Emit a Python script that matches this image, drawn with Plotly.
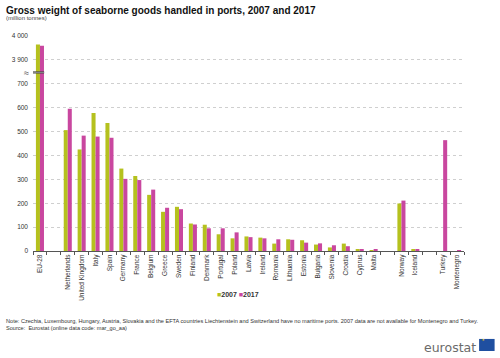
import plotly.graph_objects as go

categories = ["EU-28", " ", "Netherlands", "United Kingdom", "Italy", "Spain", "Germany", "France",
              "Belgium", "Greece", "Sweden", "Finland", "Denmark", "Portugal", "Poland", "Latvia",
              "Ireland", "Romania", "Lithuania", "Estonia", "Bulgaria", "Slovenia", "Croatia",
              "Cyprus", "Malta", "  ", "Norway", "Iceland", "   ", "Turkey", "Montenegro"]

values_2007 = [3964, None, 506, 425, 578, 536, 345, 314, 235, 164, 185, 115, 110, 70, 53, 61,
               56, 31, 49, 45, 27, 15, 31, 8, 2, None, 199, 7, None, None, None]
values_2017 = [3959, None, 595, 483, 479, 474, 302, 297, 257, 181, 175, 111, 95, 95, 78, 58,
               53, 49, 47, 35, 32, 24, 20, 8, 6, None, 211, 8, None, 464, 2]

ytick_vals = [0, 100, 200, 300, 400, 500, 600, 700, 800, 900]
ytick_text = ["0", "100", "200", "300", "400", "500", "600", "700", "3 900", "4 000"]

BREAK_OFFSET = 3100  # broken axis: values above the break are shifted down


def to_axis(v):
    if v is None:
        return None
    return v - BREAK_OFFSET if v > 750 else v


c2007 = "#B5C11E"
c2017 = "#C9479F"
font_family = "Liberation Sans, Arial, sans-serif"

fig = go.Figure()
fig.add_trace(go.Bar(x=categories, y=[to_axis(v) for v in values_2007], name="2007",
                     marker=dict(color=c2007, line=dict(width=0)),
                     customdata=values_2007, hovertemplate="%{x}: %{customdata}<extra>2007</extra>"))
fig.add_trace(go.Bar(x=categories, y=[to_axis(v) for v in values_2017], name="2017",
                     marker=dict(color=c2017, line=dict(width=0)),
                     customdata=values_2017, hovertemplate="%{x}: %{customdata}<extra>2017</extra>"))

fig.update_layout(
    width=500, height=358,
    margin=dict(l=30, r=36, t=36, b=107),
    paper_bgcolor="white", plot_bgcolor="white",
    barmode="group", bargap=0.42, bargroupgap=0,
    font=dict(family=font_family, size=7, color="#333333"),
    showlegend=False,
    xaxis=dict(type="category", categoryorder="array", categoryarray=categories,
               range=[-0.5, 30.5], tickangle=-90, tickfont=dict(size=6.5, color="#333333"),
               showline=True, linecolor="#555555", linewidth=1,
               ticks="outside", ticklen=3, tickcolor="#555555", tickson="boundaries",
               showgrid=False, fixedrange=True),
    yaxis=dict(range=[0, 900], tickvals=ytick_vals, ticktext=ytick_text,
               tickfont=dict(size=6.5, color="#333333"),
               showgrid=True, gridcolor="#cfcfcf", griddash="dot", gridwidth=1,
               zeroline=False, showline=False, ticks="", ticklabelstandoff=4, fixedrange=True),
)

# axis break marker
fig.add_shape(type="rect", xref="x", yref="y", x0=-0.55, x1=0.3, y0=743, y1=752,
              fillcolor="#4a4a4a", line=dict(width=0), layer="above")
fig.add_shape(type="rect", xref="x", yref="y", x0=-0.55, x1=0.3, y0=746, y1=749,
              fillcolor="#9a9a9a", line=dict(width=0), layer="above")
fig.add_annotation(xref="paper", yref="y", x=-0.005, y=747, text="≈", showarrow=False,
                   xanchor="right", yanchor="middle", font=dict(size=9, color="#444444"))

# legend (compact, as in the reference)
fig.add_annotation(xref="paper", yref="paper", x=0.422, y=-0.2, xanchor="left", yanchor="middle",
                   text=(f"<span style='color:{c2007}'>■</span><b>2007</b> "
                         f"<span style='color:{c2017}'>■</span><b>2017</b>"),
                   showarrow=False, font=dict(size=7, color="#333333"))

# title & subtitle
fig.add_annotation(xref="paper", yref="paper", x=-0.068, y=1.155, xanchor="left", yanchor="top",
                   text="<b>Gross weight of seaborne goods handled in ports, 2007 and 2017</b>",
                   showarrow=False, font=dict(size=10, color="#111111"))
fig.add_annotation(xref="paper", yref="paper", x=-0.068, y=1.106, xanchor="left", yanchor="top",
                   text="(million tonnes)", showarrow=False, font=dict(size=6, color="#444444"))

# footnotes
fig.add_annotation(xref="paper", yref="paper", x=-0.068, y=-0.30, xanchor="left", yanchor="top",
                   text=("Note: Czechia, Luxembourg, Hungary, Austria, Slovakia and the EFTA countries Liechtenstein "
                         "and Switzerland have no maritime ports. 2007 data are not available for Montenegro and Turkey."
                         "<br>Source:  Eurostat (online data code: mar_go_aa)"),
                   align="left", showarrow=False, font=dict(size=5.6, color="#333333"))

# eurostat logo
fig.add_annotation(xref="paper", yref="paper", x=1.032, y=-0.405, xanchor="right", yanchor="top",
                   text="eurostat", showarrow=False,
                   font=dict(size=12.5, color="#6b6b6b", family="DejaVu Sans, sans-serif"))
fig.add_shape(type="rect", xref="paper", yref="paper", x0=1.035, x1=1.071, y0=-0.465, y1=-0.409,
              fillcolor="#1f4fa0", line=dict(width=0))
fig.add_annotation(xref="paper", yref="paper", x=1.053, y=-0.437, text="⋆", showarrow=False,
                   font=dict(size=7, color="#f2d21b"))

fig.write_html("out.html", config={"displayModeBar": False},
               post_script="document.body.style.margin='0px';")
